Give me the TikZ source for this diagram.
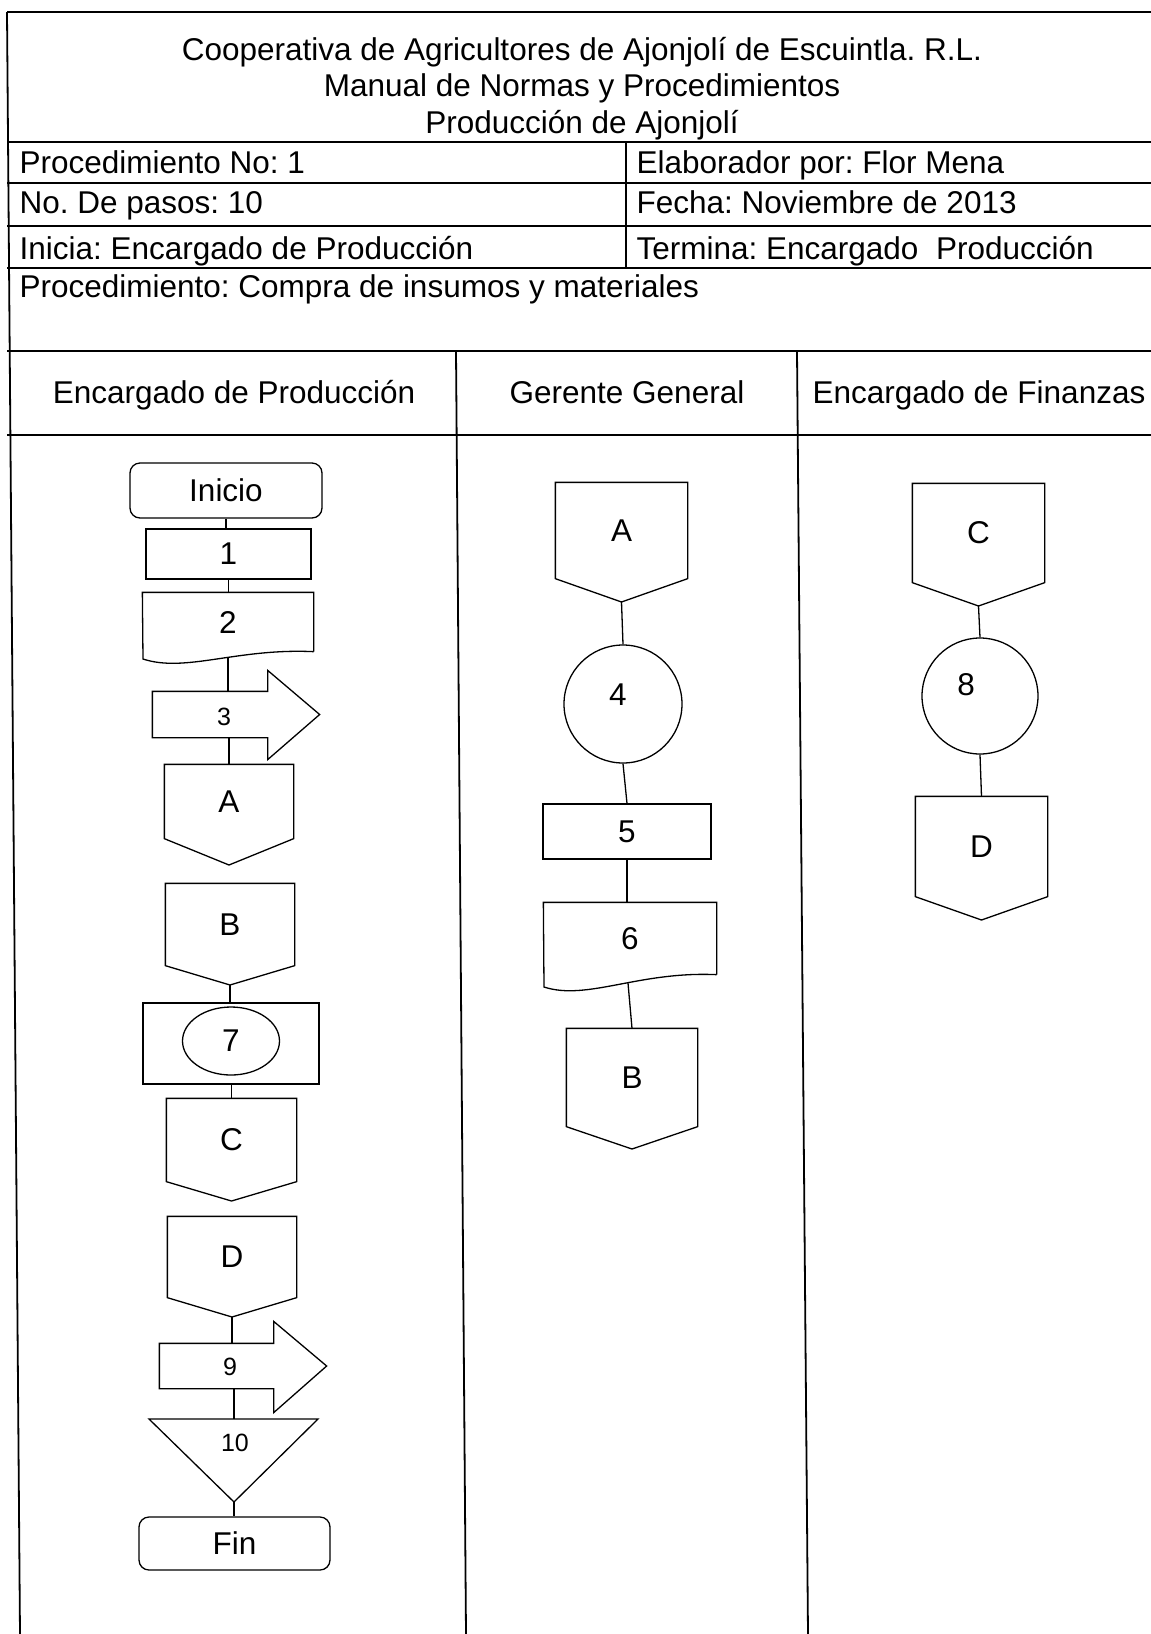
\documentclass[tikz,border=0pt]{standalone}
\usepackage{fontspec}
\setmainfont{Liberation Sans}
\usetikzlibrary{calc, shapes.geometric}
\frenchspacing

\begin{document}
\begin{tikzpicture}[x=1pt, y=-1pt, line width=1.3pt,
  txt/.style={font=\fontsize{31.5}{36}\selectfont, inner sep=0pt},
  smalltxt/.style={font=\fontsize{25}{30}\selectfont, inner sep=0pt},
  proc/.style={draw, rectangle, inner sep=0pt, txt},
  term/.style={proc, rounded corners=10pt},
  blank/.style={rectangle, inner sep=0pt, txt},
  rule/.style={line width=1.8pt}]
\useasboundingbox (0,0) rectangle (1151,1634);

\draw[rule] (7,12) -- (1151,12);
\foreach \y in {142, 183, 226, 268, 351, 435} \draw[rule] (7,\y) -- (1151,\y);
\draw[rule] (7,12) -- (20,1634);
\draw[rule] (626,142) -- (626,268);
\draw[rule] (456,351) -- (466,1634);
\draw[rule] (797,351) -- (808,1634);

\node[txt, anchor=base] (tit1) at (582,60) {Cooperativa de Agricultores de Ajonjolí de Escuintla. R.L.};
\node[txt, anchor=base] (tit2) at (582,96.5) {Manual de Normas y Procedimientos};
\node[txt, anchor=base] (tit3) at (582,133) {Producción de Ajonjolí};
\foreach \n/\y/\tl/\tr in {r1/173/{Procedimiento No: 1}/{Elaborador por: Flor Mena},
    r2/213/{No. De pasos: 10}/{Fecha: Noviembre de 2013},
    r3/259/{Inicia: Encargado de Producción}/{Termina: Encargado\ \ Producción}}
{
  \node[txt, anchor=base west] (\n-l) at (19,\y) {\tl};
  \node[txt, anchor=base west] (\n-r) at (636,\y) {\tr};
}
\node[txt, anchor=base west] (r4) at (19,297) {Procedimiento: Compra de insumos y materiales};
\foreach \n/\x/\t in {lane1/234/{Encargado de Producción}, lane2/627/{Gerente General}, lane3/979/{Encargado de Finanzas}}
  \node[txt, anchor=base] (\n) at (\x,403) {\t};

\node[term, minimum width=192pt, minimum height=55pt] (ini) at (226,490.5) {Inicio};
\node[proc, minimum width=165pt, minimum height=50pt] (s1) at (228.5,554) {1};
\node[blank, minimum width=170pt, minimum height=58pt] (s2) at (228,622) {2};
\draw (s2.south east) -- (s2.north east) -- (s2.north west) -- (143,659) .. controls (185.5,673) and (236.5,648) .. (s2.south east);
\coordinate (s2-bot) at (228,658);
\node[blank, minimum width=114pt, minimum height=45pt] (s3) at (210,714.5) {};
\draw (s3.north west) -- (s3.north east) -- ++(0,-21) -- ($(s3.east)+(52,0)$) -- ($(s3.south east)+(0,22)$) -- (s3.south east) -- (s3.south west) -- cycle;
\node[smalltxt] (s3-t) at (224,717) {3};

\foreach \n/\x/\ya/\yb/\yc/\w/\t in {pA/229/765/838/865/128/A, pB/230/884/965/985/128/B,
    pC/231.5/1099/1181/1201/129/C, pD/232/1217/1297/1317/128/D,
    qA/621.5/483/578/602/131/A, qB/632/1029/1126/1149/130/B,
    qC/978.5/484/582/606/131/C, qD/981.5/797/896/920/131/D}
{
  \node[blank, minimum width=\w*1pt, minimum height={(\yb-\ya)*1pt}] (\n) at (\x,{(\ya+\yb)/2}) {\t};
  \draw (\n.north west) -- (\n.north east) -- (\n.south east) -- (\x,\yc) -- (\n.south west) -- cycle;
  \coordinate (\n-tip) at (\x,\yc);
}

\node[proc, minimum width=176pt, minimum height=81pt] (s7) at (231,1043.5) {};
\node[draw, ellipse, minimum width=97pt, minimum height=68pt, txt] (s7e) at (231,1041) {7};
\node[blank, minimum width=113pt, minimum height=44pt] (s9) at (216.5,1366) {};
\draw (s9.north west) -- (s9.north east) -- ++(0,-22) -- ($(s9.east)+(53,0)$) -- ($(s9.south east)+(0,24)$) -- (s9.south east) -- (s9.south west) -- cycle;
\node[smalltxt] (s9-t) at (230,1367) {9};
\coordinate (m-l) at (149,1419);
\coordinate (m-r) at (318,1419);
\coordinate (m-tip) at (234,1502);
\draw (m-l) -- (m-r) -- (m-tip) -- cycle;
\node[smalltxt] (s10) at (235,1443) {10};
\node[term, minimum width=191pt, minimum height=53pt] (fin) at (234.5,1543.5) {Fin};

\node[draw, circle, minimum size=118pt, inner sep=0pt, label={[txt, xshift=-5pt, yshift=9pt]center:4}] (s4) at (623,704) {};
\node[proc, minimum width=168pt, minimum height=55pt] (s5) at (627,831.5) {5};
\node[blank, minimum width=172pt, minimum height=71pt] (s6) at (630,938.5) {6};
\draw (s6.south east) -- (s6.north east) -- (s6.north west) -- (544,987) .. controls (587,1001) and (638.6,971) .. (s6.south east);
\coordinate (s6-bot) at (628,983);
\node[draw, circle, minimum size=116pt, inner sep=0pt, label={[txt, xshift=-14pt, yshift=11pt]center:8}] (s8) at (980,696) {};

\draw (ini.south) -- (ini.south |- s1.north);
\draw (s1.south) -- (s1.south |- s2.north);
\draw (s2-bot) -- (s2-bot |- s3.north);
\draw (s3.south -| pA.north) -- (pA.north);
\draw (pB-tip) -- (pB-tip |- s7.north);
\draw (s7.south -| pC.north) -- (pC.north);
\draw (pD-tip) -- (pD-tip |- s9.north);
\draw (s9.south -| m-tip) -- (m-tip |- m-l);
\draw (m-tip) -- (m-tip |- fin.north);
\draw (qA-tip) -- (s4.north);
\draw (s4.south) -- (s5.north);
\draw (s5.south) -- (s5.south |- s6.north);
\draw (s6-bot) -- (qB.north);
\draw (qC-tip) -- (s8.north);
\draw (s8.south) -- (qD.north);
\end{tikzpicture}
\end{document}
